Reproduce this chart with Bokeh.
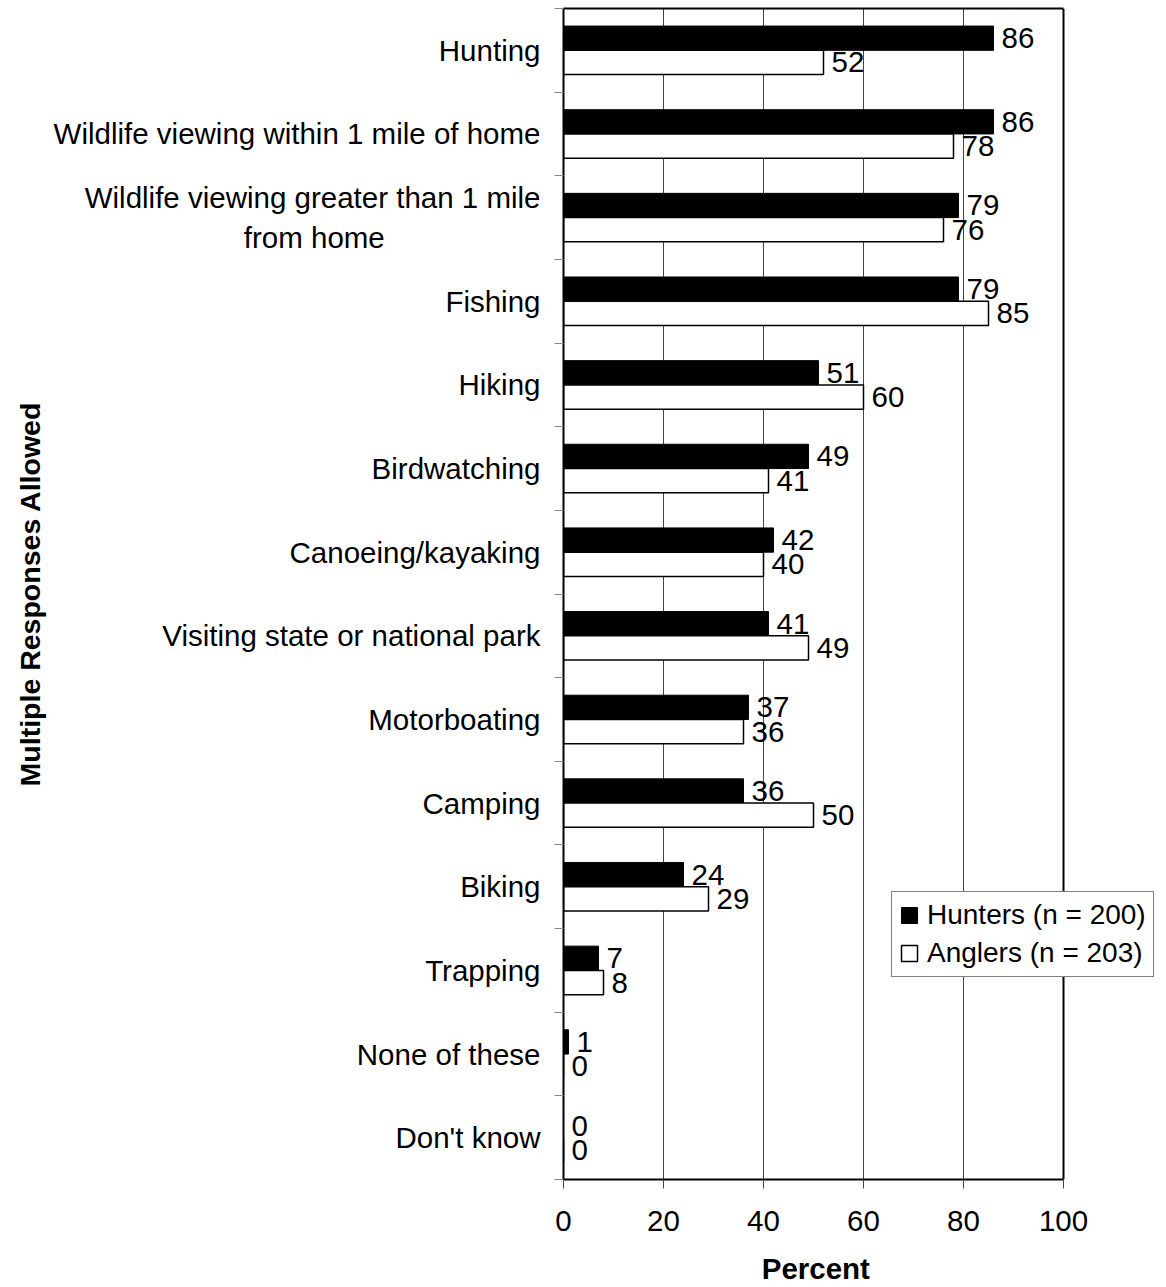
from bokeh.plotting import figure
from bokeh.models import FixedTicker, Range1d, ColumnDataSource, LinearAxis, Span
from bokeh.embed import file_html
from bokeh.resources import INLINE
from bokeh.core.properties import value

# ---- data ----
categories = [
    "Hunting",
    "Wildlife viewing within 1 mile of home",
    "Wildlife viewing greater than 1 mile\nfrom home",
    "Fishing",
    "Hiking",
    "Birdwatching",
    "Canoeing/kayaking",
    "Visiting state or national park",
    "Motorboating",
    "Camping",
    "Biking",
    "Trapping",
    "None of these",
    "Don't know",
]
hunters = [86, 86, 79, 79, 51, 49, 42, 41, 37, 36, 24, 7, 1, 0]
anglers = [52, 78, 76, 85, 60, 41, 40, 49, 36, 50, 29, 8, 0, 0]
series_names = ["Hunters (n = 200)", "Anglers (n = 203)"]
x_ticks = [0, 20, 40, 60, 80, 100]
x_title = "Percent"
y_title = "Multiple Responses Allowed"

FONT = "Liberation Sans"
FS = "29.5px"

n = len(categories)
ypos = [n - 1 - i for i in range(n)]
off = 0.145
bar_h = 0.29
x_max = x_ticks[-1]

src = ColumnDataSource(dict(
    y_h=[y + off for y in ypos],
    y_a=[y - off for y in ypos],
    hunters=hunters,
    anglers=anglers,
    hl=[str(v) for v in hunters],
    al=[str(v) for v in anglers],
))

p = figure(width=1166, height=1287, output_backend="svg", toolbar_location=None,
           x_range=Range1d(0, 120.6), y_range=Range1d(-0.5, n - 0.5),
           min_border_left=563, min_border_right=0, min_border_top=8,
           min_border_bottom=107)
p.outline_line_color = None

p.hbar(y="y_h", left=0, right="hunters", height=bar_h, source=src,
       fill_color="black", line_color="black", line_width=1,
       legend_label=series_names[0])
p.hbar(y="y_a", left=0, right="anglers", height=bar_h, source=src,
       fill_color="white", line_color="black", line_width=1.5,
       legend_label=series_names[1])

p.text(x="hunters", y="y_h", text="hl", source=src, x_offset=8,
       text_baseline="middle", text_align="left", text_font_size=FS,
       text_font=value(FONT), text_color="black")
p.text(x="anglers", y="y_a", text="al", source=src, x_offset=8,
       text_baseline="middle", text_align="left", text_font_size=FS,
       text_font=value(FONT), text_color="black")

# right border of the plot box at 100
p.add_layout(Span(location=x_max, dimension="height", line_color="black", line_width=2))

# x axis
xa = p.xaxis[0]
xa.ticker = FixedTicker(ticks=x_ticks)
xa.bounds = (0, x_max)
xa.axis_line_color = "black"
xa.axis_line_width = 2
xa.major_tick_in = 0
xa.major_tick_out = 9
xa.major_tick_line_color = "#444444"
xa.minor_tick_line_color = None
xa.major_label_text_font = FONT
xa.major_label_text_font_size = FS
xa.major_label_text_color = "black"
xa.major_label_standoff = 22
# trailing no-break spaces keep the title centred under the 0-100 box
xa.axis_label = x_title + "\u00a0" * 12
xa.axis_label_text_font = FONT
xa.axis_label_text_font_size = FS
xa.axis_label_text_font_style = "bold"
xa.axis_label_text_color = "black"
xa.axis_label_standoff = 18

# top border line
top = LinearAxis(ticker=FixedTicker(ticks=[]), bounds=(0, x_max),
                 axis_line_color="black", axis_line_width=2,
                 major_tick_out=0, major_tick_in=0, minor_tick_out=0, minor_tick_in=0,
                 major_label_text_font_size="0px")
p.add_layout(top, "above")

# y axis
ya = p.yaxis[0]
ya.ticker = FixedTicker(ticks=ypos, minor_ticks=[k - 0.5 for k in range(n + 1)])
overrides = {}
for y, c in zip(ypos, categories):
    lab = c
    if "\n" in c:
        first, second = c.split("\n")
        lab = first + "\n" + second + "\u00a0" * 19
    overrides[y] = lab
ya.major_label_overrides = overrides
ya.axis_line_color = "black"
ya.axis_line_width = 2
ya.major_tick_in = 0
ya.major_tick_out = 0
ya.minor_tick_in = 0
ya.minor_tick_out = 9
ya.minor_tick_line_color = "#888888"
ya.major_label_text_font = FONT
ya.major_label_text_font_size = FS
ya.major_label_text_color = "black"
ya.major_label_standoff = 14
ya.axis_label = y_title
ya.axis_label_text_font = FONT
ya.axis_label_text_font_size = "28.5px"
ya.axis_label_text_font_style = "bold"
ya.axis_label_text_color = "black"
ya.axis_label_standoff = 5

p.ygrid.visible = False
p.xgrid.ticker = FixedTicker(ticks=x_ticks[1:-1])
p.xgrid.grid_line_color = "#444444"
p.xgrid.grid_line_width = 1

lg = p.legend[0]
lg.location = (328, 202)
lg.label_text_font = FONT
lg.label_text_font_size = "28px"
lg.label_text_color = "black"
lg.glyph_width = 20
lg.glyph_height = 20
lg.label_standoff = 8
lg.padding = 7
lg.spacing = 6
lg.margin = 0
lg.border_line_color = "black"
lg.border_line_width = 1
lg.background_fill_color = "white"
lg.background_fill_alpha = 1

open("out.html", "w").write(file_html(p, INLINE))
